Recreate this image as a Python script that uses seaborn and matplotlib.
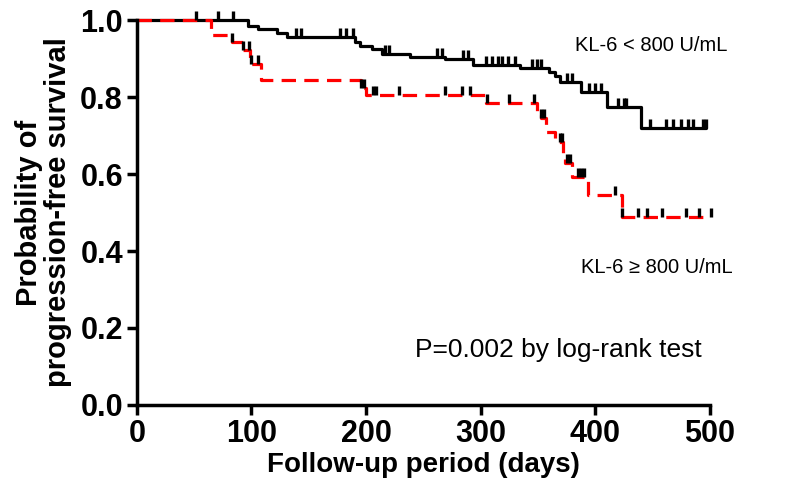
import numpy as np
import pandas as pd
import seaborn as sns
import matplotlib.pyplot as plt

sns.set_theme(style='ticks', rc={'text.color': 'black', 'axes.labelcolor': 'black',
                                 'xtick.color': 'black', 'ytick.color': 'black',
                                 'axes.edgecolor': 'black'})
plt.rcParams['font.family'] = ['Liberation Sans', 'DejaVu Sans']

# KL-6 < 800 U/mL : event times (days) and survival after each event
low_days = [0, 97, 106, 122, 131, 190, 195, 205, 214, 238, 269, 293, 334, 360, 365, 369, 388, 410, 440]
low_surv = [1.0, 0.984, 0.977, 0.966, 0.955, 0.944, 0.933, 0.925, 0.913, 0.905, 0.899, 0.883, 0.875,
            0.866, 0.855, 0.840, 0.814, 0.775, 0.719]
low_censor = [52, 71, 84, 139, 143, 177, 183, 189, 217, 220, 262, 266, 285, 289, 305, 310, 315, 319,
              324, 330, 345, 349, 353, 375, 380, 395, 400, 405, 420, 425, 427, 448, 462, 468, 475,
              481, 485, 494, 497]

# KL-6 >= 800 U/mL
high_days = [0, 65, 83, 93, 99, 108, 196, 200, 305, 349, 353, 357, 365, 372, 374, 380, 394, 423]
high_surv = [1.0, 0.961, 0.942, 0.922, 0.886, 0.844, 0.825, 0.805, 0.784, 0.765, 0.745, 0.710,
             0.684, 0.655, 0.628, 0.593, 0.545, 0.489]
high_censor = [83, 93, 98, 100, 106, 196, 198, 206, 209, 229, 269, 284, 291, 306, 325, 347, 353,
               355, 369, 371, 375, 378, 385, 388, 390, 417, 423, 437, 445, 458, 479, 491, 501]


def km_frame(days, surv, censor):
    # extend the last step out to the last censored time
    return pd.DataFrame({'day': days + [censor[-1]], 'surv': surv + [surv[-1]]})


def censor_frame(days, surv, censor):
    idx = np.searchsorted(days, censor, side='right') - 1
    return pd.DataFrame({'day': censor, 'surv': np.array(surv)[idx]})


fig, ax = plt.subplots(figsize=(7.86, 4.92), dpi=100)
fig.subplots_adjust(left=0.174, right=0.903, bottom=0.177, top=0.959)

low_df = km_frame(low_days, low_surv, low_censor)
high_df = km_frame(high_days, high_surv, high_censor)

sns.lineplot(data=low_df, x='day', y='surv', drawstyle='steps-post', color='black', lw=2.3,
             estimator=None, sort=False, ax=ax, clip_on=False)
sns.lineplot(data=high_df, x='day', y='surv', drawstyle='steps-post', color='#ff0000', lw=2.3,
             linestyle=(0, (4.5, 2.6)), estimator=None, sort=False, ax=ax, clip_on=False)

for d, s, c in [(low_days, low_surv, low_censor), (high_days, high_surv, high_censor)]:
    cdf = censor_frame(d, s, c)
    ax.scatter(cdf['day'], cdf['surv'], marker=2, s=45, color='black', linewidths=2.4,
               clip_on=False, zorder=5)

ax.set_xlim(0, 500)
ax.set_ylim(0, 1.0)
ax.set_xticks([0, 100, 200, 300, 400, 500])
ax.set_yticks([0.0, 0.2, 0.4, 0.6, 0.8, 1.0])
ax.set_yticklabels(['0.0', '0.2', '0.4', '0.6', '0.8', '1.0'])
sns.despine(ax=ax)
for sp in ['left', 'bottom']:
    ax.spines[sp].set_linewidth(2.5)
ax.tick_params(direction='out', length=7, width=2.5, labelsize=22, pad=3)
for lab in ax.get_xticklabels() + ax.get_yticklabels():
    lab.set_fontweight('bold')

ax.set_xlabel('Follow-up period (days)', fontsize=20, fontweight='bold', labelpad=2)
ax.set_ylabel('Probability of\nprogression-free survival', fontsize=21, fontweight='bold',
              linespacing=1.05, labelpad=6)

ax.text(382, 0.935, 'KL-6 < 800 U/mL', fontsize=14.5, va='center')
ax.text(388, 0.356, 'KL-6 \u2265 800 U/mL', fontsize=14.5, va='center')
ax.text(243, 0.143, 'P=0.002 by log-rank test', fontsize=19, va='center')

fig.savefig('out.png', dpi=100)
